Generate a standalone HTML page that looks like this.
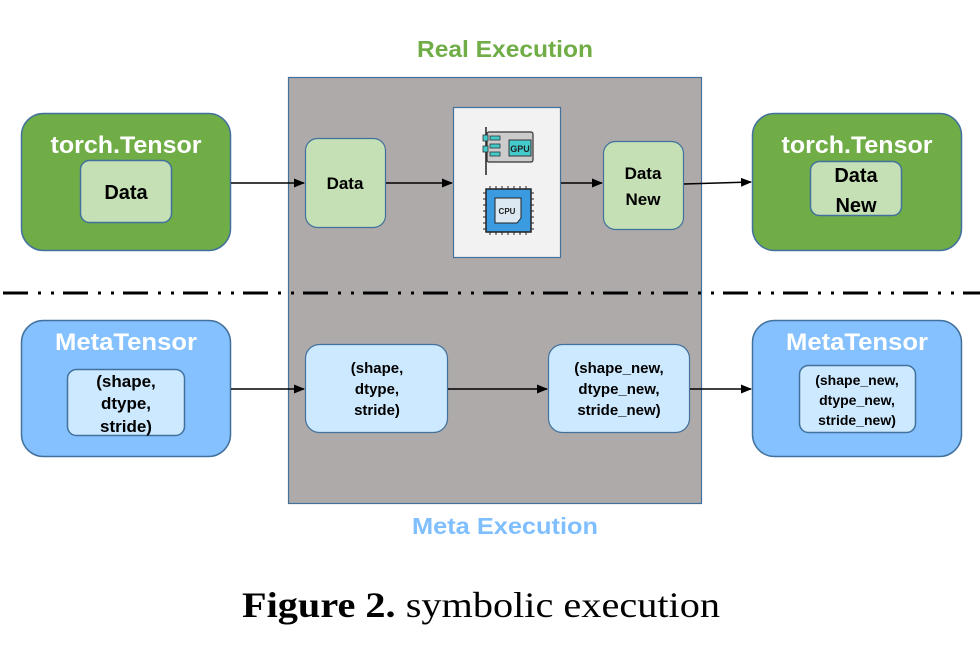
<!DOCTYPE html>
<html><head><meta charset="utf-8"><style>
html,body{margin:0;padding:0;background:#fff;}
svg{display:block;}
.s{font-family:"Liberation Sans","DejaVu Sans",sans-serif;font-weight:bold;}
</style></head><body>
<svg width="980" height="654" viewBox="0 0 980 654" xmlns="http://www.w3.org/2000/svg">
<defs>
<marker id="a" markerWidth="11" markerHeight="9" refX="10" refY="4.5" orient="auto" markerUnits="userSpaceOnUse">
<path d="M0,0 L11,4.5 L0,9 Z" fill="#000"/></marker>
</defs>
<rect x="288.5" y="77.5" width="413" height="426" fill="#aeaaaa" stroke="#41719c" stroke-width="1.2"/>
<line x1="3" y1="293" x2="980" y2="293" stroke="#000" stroke-width="3" stroke-dasharray="25 10 3 10 3 9"/>
<text x="505" y="57" class="s" font-size="23" fill="#70ad47" text-anchor="middle" textLength="176" lengthAdjust="spacingAndGlyphs">Real Execution</text>
<text x="505" y="534" class="s" font-size="23" fill="#7fbfff" text-anchor="middle" textLength="186" lengthAdjust="spacingAndGlyphs">Meta Execution</text>

<rect x="21.5" y="113.5" width="209" height="137" rx="22" fill="#70ad47" stroke="#41719c" stroke-width="1.5"/>
<text x="126" y="153" class="s" font-size="24" fill="#fff" text-anchor="middle" textLength="151" lengthAdjust="spacingAndGlyphs">torch.Tensor</text>
<rect x="80.5" y="160.5" width="91" height="62" rx="9" fill="#c5e0b4" stroke="#41719c" stroke-width="1.5"/>
<text x="126" y="199" class="s" font-size="20" text-anchor="middle">Data</text>

<rect x="752.5" y="113.5" width="209" height="137" rx="22" fill="#70ad47" stroke="#41719c" stroke-width="1.5"/>
<text x="857" y="153" class="s" font-size="24" fill="#fff" text-anchor="middle" textLength="151" lengthAdjust="spacingAndGlyphs">torch.Tensor</text>
<rect x="810.5" y="161.5" width="91" height="54" rx="9" fill="#c5e0b4" stroke="#41719c" stroke-width="1.5"/>
<text x="856" y="182" class="s" font-size="20" text-anchor="middle">Data</text>
<text x="856" y="212" class="s" font-size="20" text-anchor="middle">New</text>

<rect x="305.5" y="138.5" width="80" height="89" rx="12" fill="#c5e0b4" stroke="#41719c" stroke-width="1.2"/>
<text x="345" y="189" class="s" font-size="17" text-anchor="middle">Data</text>
<rect x="603.5" y="141.5" width="80" height="88" rx="12" fill="#c5e0b4" stroke="#41719c" stroke-width="1.2"/>
<text x="643" y="179" class="s" font-size="17" text-anchor="middle">Data</text>
<text x="643" y="205" class="s" font-size="17" text-anchor="middle">New</text>

<rect x="453.5" y="107.5" width="107" height="150" fill="#f2f2f2" stroke="#41719c" stroke-width="1.2"/>
<line x1="486" y1="127" x2="486" y2="175" stroke="#222" stroke-width="1.5"/>
<rect x="487" y="132" width="46" height="30" rx="2" fill="#ccc" stroke="#333" stroke-width="1.2"/>
<rect x="483" y="135" width="5" height="6" fill="#4cc" stroke="#333" stroke-width="0.8"/>
<rect x="483" y="146" width="5" height="6" fill="#4cc" stroke="#333" stroke-width="0.8"/>
<rect x="490" y="136" width="10" height="4" fill="#4cc" stroke="#333" stroke-width="0.8"/>
<rect x="490" y="144" width="10" height="4" fill="#4cc" stroke="#333" stroke-width="0.8"/>
<rect x="490" y="152" width="10" height="4" fill="#4cc" stroke="#333" stroke-width="0.8"/>
<rect x="509" y="140" width="22" height="16" fill="#4cc" stroke="#333" stroke-width="1"/>
<text x="520" y="152" font-family="Liberation Sans,sans-serif" font-size="9" font-weight="bold" text-anchor="middle" fill="#222">GPU</text>
<rect x="486" y="189" width="45" height="43" fill="#3a9be0" stroke="#222" stroke-width="1.5"/>
<path d="M490 186v3M496 186v3M502 186v3M508 186v3M514 186v3M520 186v3M526 186v3M490 232v3M496 232v3M502 232v3M508 232v3M514 232v3M520 232v3M526 232v3M483 193h3M483 199h3M483 205h3M483 211h3M483 217h3M483 223h3M483 229h3M531 193h3M531 199h3M531 205h3M531 211h3M531 217h3M531 223h3M531 229h3" stroke="#222"/>
<path d="M495 198h26v20l-4 5h-22z" fill="#dce9f2" stroke="#222" stroke-width="1"/>
<text x="507" y="214" font-family="Liberation Sans,sans-serif" font-size="8" font-weight="bold" text-anchor="middle" fill="#222">CPU</text>

<line x1="231" y1="183" x2="304" y2="183" stroke="#000" stroke-width="1.6" marker-end="url(#a)"/>
<line x1="386" y1="183" x2="452" y2="183" stroke="#000" stroke-width="1.6" marker-end="url(#a)"/>
<line x1="561" y1="183" x2="602" y2="183" stroke="#000" stroke-width="1.6" marker-end="url(#a)"/>
<line x1="684" y1="184" x2="751" y2="182" stroke="#000" stroke-width="1.6" marker-end="url(#a)"/>

<rect x="21.5" y="320.5" width="209" height="136" rx="22" fill="#85c1ff" stroke="#41719c" stroke-width="1.5"/>
<text x="126" y="350" class="s" font-size="24" fill="#fff" text-anchor="middle" textLength="142" lengthAdjust="spacingAndGlyphs">MetaTensor</text>
<rect x="67.5" y="369.5" width="117" height="66" rx="9" fill="#cde9ff" stroke="#41719c" stroke-width="1.5"/>
<text x="126" y="387" class="s" font-size="17" text-anchor="middle">(shape,</text>
<text x="126" y="409" class="s" font-size="17" text-anchor="middle">dtype,</text>
<text x="126" y="432" class="s" font-size="17" text-anchor="middle">stride)</text>

<rect x="752.5" y="320.5" width="209" height="136" rx="22" fill="#85c1ff" stroke="#41719c" stroke-width="1.5"/>
<text x="857" y="350" class="s" font-size="24" fill="#fff" text-anchor="middle" textLength="142" lengthAdjust="spacingAndGlyphs">MetaTensor</text>
<rect x="799.5" y="365.5" width="116" height="67" rx="9" fill="#cde9ff" stroke="#41719c" stroke-width="1.5"/>
<text x="857" y="385" class="s" font-size="14" text-anchor="middle">(shape_new,</text>
<text x="857" y="405" class="s" font-size="14" text-anchor="middle">dtype_new,</text>
<text x="857" y="425" class="s" font-size="14" text-anchor="middle">stride_new)</text>

<rect x="305.5" y="344.5" width="142" height="88" rx="14" fill="#cde9ff" stroke="#41719c" stroke-width="1.2"/>
<text x="377" y="373" class="s" font-size="15" text-anchor="middle">(shape,</text>
<text x="377" y="394" class="s" font-size="15" text-anchor="middle">dtype,</text>
<text x="377" y="415" class="s" font-size="15" text-anchor="middle">stride)</text>
<rect x="548.5" y="344.5" width="141" height="88" rx="14" fill="#cde9ff" stroke="#41719c" stroke-width="1.2"/>
<text x="619" y="373" class="s" font-size="15" text-anchor="middle">(shape_new,</text>
<text x="619" y="394" class="s" font-size="15" text-anchor="middle">dtype_new,</text>
<text x="619" y="415" class="s" font-size="15" text-anchor="middle">stride_new)</text>

<line x1="231" y1="389" x2="304" y2="389" stroke="#000" stroke-width="1.6" marker-end="url(#a)"/>
<line x1="448" y1="389" x2="547" y2="389" stroke="#000" stroke-width="1.6" marker-end="url(#a)"/>
<line x1="690" y1="389" x2="751" y2="389" stroke="#000" stroke-width="1.6" marker-end="url(#a)"/>

<text x="242" y="617" font-family="Liberation Serif,serif" font-size="36" textLength="478" lengthAdjust="spacingAndGlyphs"><tspan font-weight="bold">Figure 2.</tspan> symbolic execution</text>
</svg>
</body></html>
